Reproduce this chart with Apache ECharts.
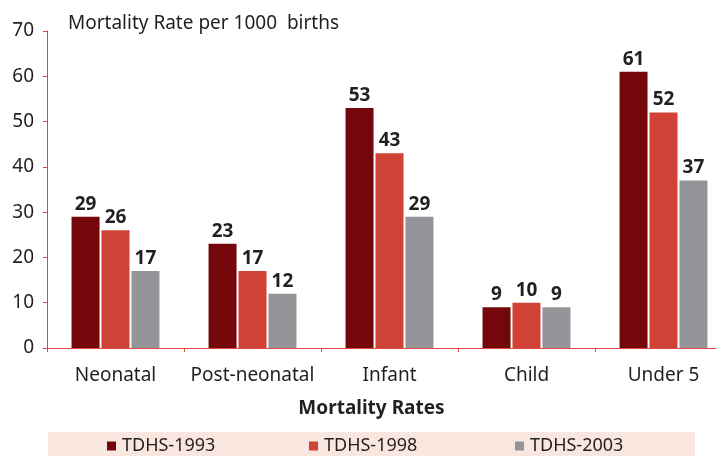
<!DOCTYPE html>
<html>
<head>
<meta charset="utf-8">
<script src="https://cdn.jsdelivr.net/npm/echarts@6/dist/echarts.min.js"></script>
<style>
  html, body { margin: 0; padding: 0; background: #fff; }
  #chart { width: 716px; height: 456px; }
</style>
</head>
<body>
<div id="chart"></div>
<script>
// data
var categories = ['Neonatal', 'Post-neonatal', 'Infant', 'Child', 'Under 5'];
var seriesNames = ['TDHS-1993', 'TDHS-1998', 'TDHS-2003'];
var tdhs1993 = [29, 23, 53, 9, 61];
var tdhs1998 = [26, 17, 43, 10, 52];
var tdhs2003 = [17, 12, 29, 9, 37];
var yTicks = [0, 10, 20, 30, 40, 50, 60, 70];

var colors = ['#730709', '#d04235', '#939598'];
var axisRed = '#e2463c';
var textColor = '#231f20';
var font = '"Noto Sans", "Open Sans", sans-serif';

var chart = echarts.init(document.getElementById('chart'));

function makeSeries(name, data, color) {
  return {
    name: name,
    type: 'bar',
    data: data,
    barWidth: 28,
    barGap: '7%',
    itemStyle: { color: color },
    label: {
      show: true,
      position: 'top',
      distance: 3,
      color: textColor,
      fontFamily: font,
      fontWeight: 'bold',
      fontSize: 19
    }
  };
}

//每个图例单独放置
function makeLegend(name, left) {
  return {
    data: [name],
    left: left,
    top: 437,
    itemWidth: 9,
    itemHeight: 9,
    icon: 'rect',
    itemGap: 0,
    textStyle: { color: textColor, fontFamily: font, fontSize: 18, padding: [0, 0, 0, 1] },
    padding: 0
  };
}

chart.setOption({
  animation: false,
  textStyle: { fontFamily: font },
  title: {
    text: 'Mortality Rate per 1000  births',
    left: 68,
    top: 14,
    padding: 0,
    textStyle: { color: textColor, fontFamily: font, fontWeight: 'normal', fontSize: 19 }
  },
  graphic: [{
    type: 'rect',
    z: -10,
    shape: { x: 48, y: 432, width: 647, height: 24 },
    style: { fill: '#f9e6df' }
  }],
  legend: [
    makeLegend(seriesNames[0], 107),
    makeLegend(seriesNames[1], 309),
    makeLegend(seriesNames[2], 515)
  ],
  grid: {
    left: 47,
    right: -16, //轴线延伸到画面外
    top: 31,
    bottom: 108,
    outerBoundsMode: 'none',
    containLabel: false
  },
  xAxis: {
    type: 'category',
    data: categories,
    name: 'Mortality Rates',
    nameLocation: 'middle',
    nameGap: 51,
    nameTextStyle: {
      color: textColor, fontFamily: font, fontWeight: 'bold', fontSize: 19,
      padding: [0, 36, 0, 0] //标题左移
    },
    axisLine: { lineStyle: { color: axisRed, width: 1 } },
    axisTick: { show: true, length: 4, lineStyle: { color: axisRed } },
    axisLabel: { interval: 0, color: textColor, fontFamily: font, fontSize: 19, margin: 18 },
    splitLine: { show: false }
  },
  yAxis: {
    type: 'value',
    min: yTicks[0],
    max: yTicks[yTicks.length - 1],
    interval: 10,
    axisLine: { show: true, lineStyle: { color: axisRed, width: 1 } },
    axisTick: { show: true, length: 4, lineStyle: { color: axisRed } },
    axisLabel: { color: textColor, fontFamily: font, fontSize: 19, margin: 13 },
    splitLine: { show: false }
  },
  series: [
    makeSeries(seriesNames[0], tdhs1993, colors[0]),
    makeSeries(seriesNames[1], tdhs1998, colors[1]),
    makeSeries(seriesNames[2], tdhs2003, colors[2])
  ]
});
</script>
</body>
</html>
